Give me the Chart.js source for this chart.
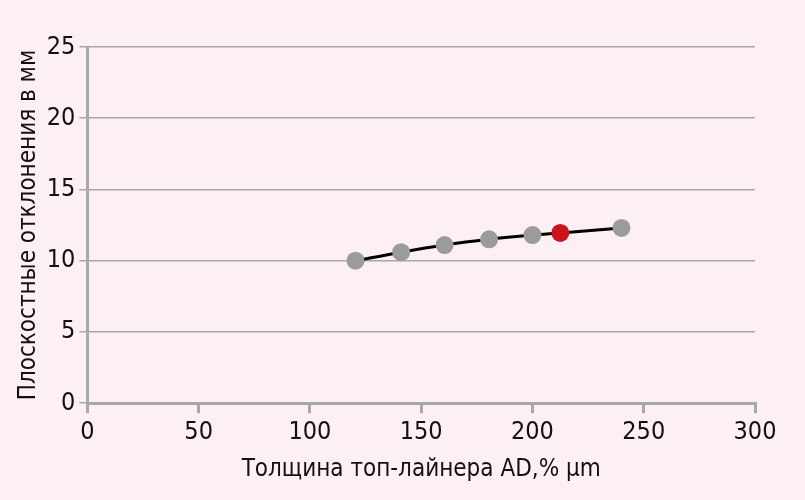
<!DOCTYPE html>
<html lang="ru">
<head>
  <meta charset="UTF-8">
  <title>Плоскостные отклонения</title>
  <script src="https://cdn.jsdelivr.net/npm/chart.js"></script>
  <style>
    html, body { margin: 0; padding: 0; background: #fdf0f4; }
    #wrap { width: 805px; height: 500px; }
  </style>
</head>
<body>
<div id="wrap"><canvas id="chart" width="805" height="500"></canvas></div>
<script>
  // data
  const thickness = [120.5, 141, 160.5, 180.5, 200, 212.5, 240];
  const deviation = [10.0, 10.6, 11.1, 11.5, 11.8, 11.95, 12.3];
  const highlightIndex = 5;
  const xTicks = [0, 50, 100, 150, 200, 250, 300];
  const yTicks = [0, 5, 10, 15, 20, 25];

  const font = "'DejaVu Sans Condensed', sans-serif";
  const gridGray = '#a8a8a8';

  const pointColors = thickness.map((_, i) => i === highlightIndex ? '#c8141c' : '#9b9b9b');

  new Chart(document.getElementById('chart'), {
    type: 'scatter',
    data: {
      datasets: [{
        data: thickness.map((x, i) => ({ x: x, y: deviation[i] })),
        showLine: true,
        borderColor: '#000',
        borderWidth: 3,
        tension: 0.3,
        pointRadius: 9,
        pointHoverRadius: 9,
        pointBackgroundColor: pointColors,
        pointBorderWidth: 0
      }]
    },
    options: {
      responsive: false,
      animation: false,
      layout: { padding: { left: 10, right: 50, top: 47, bottom: 12 } },
      plugins: { legend: { display: false }, tooltip: { enabled: false } },
      scales: {
        x: {
          type: 'linear',
          min: 0, max: 300,
          afterBuildTicks: s => { s.ticks = xTicks.map(v => ({ value: v })); },
          grid: { drawOnChartArea: false, drawTicks: true, tickLength: 10, color: gridGray, lineWidth: 3 },
          border: { color: gridGray, width: 3 },
          ticks: { color: '#111', font: { family: font, size: 25 }, padding: 4 },
          title: { display: true, text: 'Толщина топ-лайнера AD,% μm', color: '#111',
                   font: { family: font, size: 24 }, padding: { top: 4 } }
        },
        y: {
          min: 0, max: 25,
          afterBuildTicks: s => { s.ticks = yTicks.map(v => ({ value: v })); },
          grid: { color: gridGray, lineWidth: 1.5, tickLength: 8 },
          border: { color: gridGray, width: 3 },
          ticks: { color: '#111', font: { family: font, size: 25 }, padding: 4 },
          title: { display: true, text: 'Плоскостные отклонения в мм', color: '#111',
                   font: { family: font, size: 24 }, padding: { bottom: 0 } }
        }
      }
    }
  });
</script>
</body>
</html>
